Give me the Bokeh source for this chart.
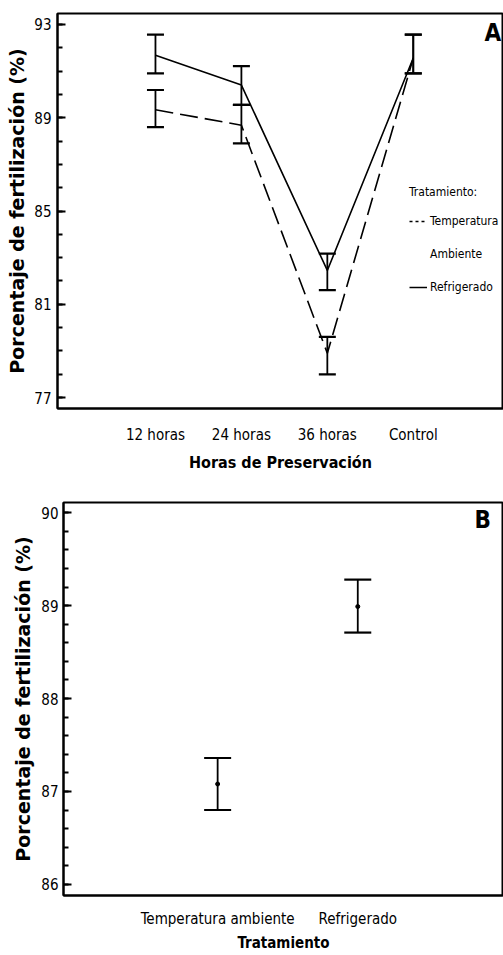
from bokeh.plotting import figure
from bokeh.models import (Whisker, ColumnDataSource, Legend, LegendItem, Label,
                          FixedTicker, Range1d, TeeHead)
from bokeh.embed import file_html
from bokeh.resources import INLINE

# ---------------- data (panel A) ----------------
horas = ["12 horas", "24 horas", "36 horas", "Control"]
temp_mean = [89.34, 88.68, 78.9, 91.56]
temp_lower = [88.6, 87.9, 77.99, 90.9]
temp_upper = [90.19, 89.55, 79.6, 92.56]
refr_mean = [91.68, 90.4, 82.45, 91.56]
refr_lower = [90.9, 89.55, 81.61, 90.9]
refr_upper = [92.56, 91.21, 83.17, 92.56]
yticks_a = [77, 81, 85, 89, 93]
yminor_a = list(range(77, 94))

# ---------------- data (panel B) ----------------
tratamientos = ["Temperatura ambiente", "Refrigerado"]
trat_mean = [87.08, 88.99]
trat_lower = [86.8, 88.71]
trat_upper = [87.36, 89.28]
yticks_b = [86, 87, 88, 89, 90]
yminor_b = [86 + 0.2 * i for i in range(21)]

YTITLE = "Porcentaje de fertilización (%)"
NARROW = "DejaVu Sans Condensed, Liberation Sans Narrow, Liberation Sans"
BOLDF = "DejaVu Sans"


def style(p, yticks, yminor, xlabels, xtitle, xsize):
    p.outline_line_color = "black"
    p.outline_line_width = 2
    p.grid.visible = False
    p.background_fill_color = "white"
    p.border_fill_color = "white"
    for ax in (p.xaxis[0], p.yaxis[0]):
        ax.axis_line_width = 2
        ax.axis_line_color = "black"
        ax.major_label_text_color = "black"
        ax.axis_label_text_color = "black"
    p.yaxis.axis_label = YTITLE
    p.yaxis.axis_label_text_font = BOLDF
    p.yaxis.axis_label_text_font_style = "bold"
    p.yaxis.axis_label_text_font_size = "19px"
    p.yaxis.ticker = FixedTicker(ticks=yticks, minor_ticks=yminor)
    p.yaxis.major_tick_in = 8
    p.yaxis.major_tick_out = 0
    p.yaxis.minor_tick_in = 5
    p.yaxis.minor_tick_out = 0
    p.yaxis.major_tick_line_width = 2
    p.yaxis.minor_tick_line_width = 2
    p.yaxis.major_label_text_font = NARROW
    p.yaxis.major_label_text_font_size = "15px"
    p.yaxis.major_label_standoff = 6
    xs = list(range(1, len(xlabels) + 1))
    p.xaxis.axis_label = xtitle
    p.xaxis.axis_label_text_font = NARROW
    p.xaxis.axis_label_text_font_style = "bold"
    p.xaxis.axis_label_text_font_size = xsize
    p.xaxis.ticker = FixedTicker(ticks=xs)
    p.xaxis.major_label_overrides = {x: lab for x, lab in zip(xs, xlabels)}
    p.xaxis.major_tick_line_color = None
    p.xaxis.minor_tick_line_color = None
    p.xaxis.major_label_text_font = NARROW
    p.xaxis.major_label_text_font_size = "15px"


# ---------------- panel A ----------------
pa = figure(width=503, height=482, title=None, output_backend="svg",
            toolbar_location=None,
            x_range=Range1d(-0.14, 5.05), y_range=Range1d(76.53, 93.47),
            min_border_left=57, min_border_right=0, min_border_top=13,
            min_border_bottom=74)
style(pa, yticks_a, yminor_a, horas, "Horas de Preservación", "16px")
pa.yaxis.axis_label_standoff = 3
pa.xaxis.major_label_standoff = 11
pa.xaxis.axis_label_standoff = 6

xa = list(range(1, len(horas) + 1))
src_t = ColumnDataSource(dict(x=xa, y=temp_mean, lo=temp_lower, up=temp_upper))
src_r = ColumnDataSource(dict(x=xa, y=refr_mean, lo=refr_lower, up=refr_upper))

pa.line("x", "y", source=src_t, line_color="black", line_width=1.6, line_dash="18 7")
pa.line("x", "y", source=src_r, line_color="black", line_width=1.6)
for s in (src_t, src_r):
    pa.add_layout(Whisker(source=s, base="x", upper="up", lower="lo",
                          line_color="black", line_width=1.8,
                          upper_head=TeeHead(size=17, line_width=2.2, line_color="black"),
                          lower_head=TeeHead(size=17, line_width=2.2, line_color="black")))

# legend sample renderers (no visible data)
nan = float("nan")
d_t = pa.line([nan], [nan], line_color="black", line_width=1.5, line_dash="3 3")
d_a = pa.line([nan], [nan], line_color="black", line_alpha=0)
d_r = pa.line([nan], [nan], line_color="black", line_width=1.5)
leg = Legend(items=[LegendItem(label="Temperatura", renderers=[d_t]),
                    LegendItem(label="Ambiente", renderers=[d_a]),
                    LegendItem(label="Refrigerado", renderers=[d_r])],
             title="Tratamiento:", location=(352, 111),
             background_fill_alpha=0, border_line_color=None,
             padding=0, margin=0, spacing=13, label_height=20, glyph_height=20,
             glyph_width=18, label_standoff=3,
             label_text_font=NARROW, label_text_font_size="12px",
             label_text_color="black",
             title_text_font=NARROW, title_text_font_size="12px",
             title_text_color="black",
             title_text_font_style="normal", title_standoff=12)
pa.add_layout(leg)

pa.add_layout(Label(x=427, y=376, x_units="screen", y_units="screen", text="A",
                    text_baseline="alphabetic",
                    text_font=NARROW, text_font_style="bold",
                    text_font_size="24px", text_color="black"))

# ---------------- panel B ----------------
pb = figure(width=503, height=473, title=None, output_backend="svg",
            toolbar_location=None,
            x_range=Range1d(-0.1, 3.04), y_range=Range1d(85.88, 90.11),
            min_border_left=63, min_border_right=0, min_border_top=20,
            min_border_bottom=60)
style(pb, yticks_b, yminor_b, tratamientos, "Tratamiento", "15px")
pb.yaxis.major_label_standoff = 5
pb.yaxis.axis_label_standoff = 4
pb.xaxis.major_label_standoff = 8
pb.xaxis.axis_label_standoff = 3

xb = list(range(1, len(tratamientos) + 1))
src_b = ColumnDataSource(dict(x=xb, y=trat_mean, lo=trat_lower, up=trat_upper))
pb.add_layout(Whisker(source=src_b, base="x", upper="up", lower="lo",
                      line_color="black", line_width=1.8,
                      upper_head=TeeHead(size=27, line_width=2.2, line_color="black"),
                      lower_head=TeeHead(size=27, line_width=2.2, line_color="black")))
pb.scatter("x", "y", source=src_b, size=4, color="black")

pb.add_layout(Label(x=411, y=376, x_units="screen", y_units="screen", text="B",
                    text_baseline="alphabetic",
                    text_font=NARROW, text_font_style="bold",
                    text_font_size="24px", text_color="black"))

open("out.html", "w").write(file_html([pa, pb], INLINE))
